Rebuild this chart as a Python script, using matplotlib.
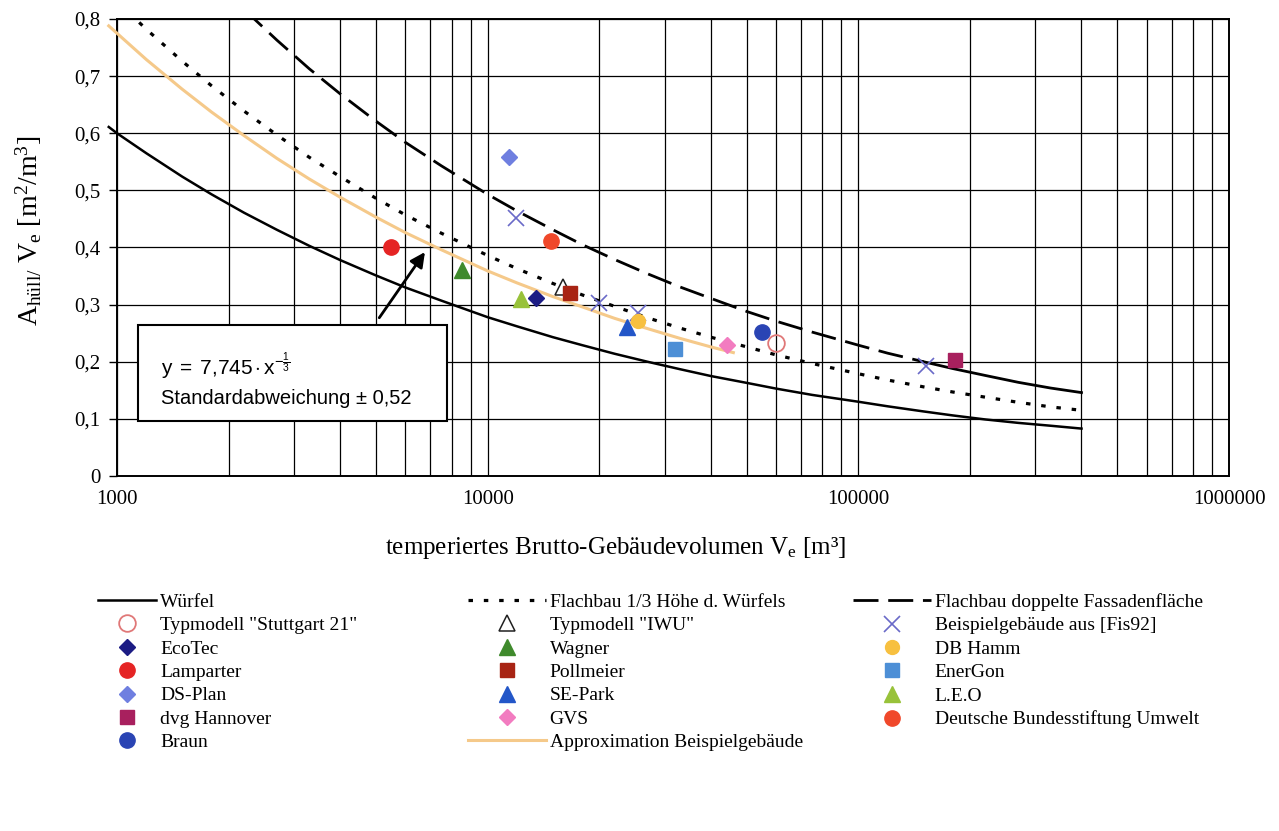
import matplotlib
matplotlib.use("Agg")
import matplotlib.pyplot as plt
from matplotlib.patches import Rectangle
from matplotlib.ticker import FixedLocator, FixedFormatter, LogLocator, NullFormatter

plt.rcParams['font.family'] = ['Liberation Serif', 'DejaVu Serif']
plt.rcParams['mathtext.fontset'] = 'custom'
plt.rcParams['mathtext.rm'] = 'Liberation Serif'
plt.rcParams['mathtext.sf'] = 'Liberation Sans'
plt.rcParams['mathtext.it'] = 'Liberation Serif:italic'

# Kurven
CURVE_V = [1000, 1200, 1500, 1800, 2200, 2700, 3300, 4000, 5000, 6000, 7500,
           10000, 12000, 15000, 18000, 22000, 27000, 33000, 40000, 50000, 60000, 75000,
           100000, 120000, 150000, 180000, 220000, 270000, 330000, 400000]
WUERFEL_V = [950] + CURVE_V
WUERFEL_Y = [0.611, 0.600, 0.565, 0.524, 0.493, 0.461, 0.431, 0.403, 0.378, 0.351, 0.330, 0.307,
             0.278, 0.262, 0.243, 0.229, 0.214, 0.200, 0.187, 0.175, 0.163, 0.153, 0.142,
             0.130, 0.122, 0.113, 0.106, 0.099, 0.093, 0.088, 0.083]

FLACH13_V = CURVE_V
FLACH13_Y = [0.831, 0.782, 0.726, 0.683, 0.639, 0.597, 0.558, 0.524, 0.486, 0.457, 0.425,
             0.386, 0.363, 0.337, 0.317, 0.297, 0.277, 0.259, 0.243, 0.226, 0.212, 0.197,
             0.179, 0.168, 0.156, 0.147, 0.138, 0.129, 0.121, 0.115]

DOPPEL_V = [2200, 2700, 3300, 4000, 5000, 6000, 7500, 10000, 12000, 15000, 18000, 22000,
            27000, 33000, 40000, 50000, 60000, 75000, 100000, 120000, 150000]
DOPPEL_Y = [0.817, 0.763, 0.713, 0.669, 0.621, 0.584, 0.543, 0.493, 0.464, 0.431, 0.405, 0.379,
            0.354, 0.331, 0.311, 0.288, 0.271, 0.252, 0.229, 0.215, 0.200]
DOPPEL_END_V = [150000, 180000, 220000, 270000, 330000, 400000]
DOPPEL_END_Y = [0.200, 0.188, 0.176, 0.164, 0.154, 0.146]

APPROX_V = [950, 1000, 1200, 1500, 1800, 2200, 2700, 3300, 4000, 5000, 6000, 7500,
            10000, 12000, 15000, 18000, 22000, 27000, 33000, 40000, 46000]
APPROX_Y = [0.788, 0.775, 0.729, 0.677, 0.637, 0.596, 0.556, 0.520, 0.488, 0.453, 0.426, 0.396,
            0.359, 0.338, 0.314, 0.296, 0.276, 0.258, 0.241, 0.226, 0.216]

# Beispielgebaeude
STUTTGART_V, STUTTGART_Y = [59800], [0.232]
IWU_V, IWU_Y = [16000], [0.330]
FIS92_V = [11900, 20000, 25400, 152000]
FIS92_Y = [0.452, 0.303, 0.285, 0.193]
ECOTEC_V, ECOTEC_Y = [13500], [0.312]
WAGNER_V, WAGNER_Y = [8500], [0.360]
DBHAMM_V, DBHAMM_Y = [25400], [0.271]
LAMPARTER_V, LAMPARTER_Y = [5500], [0.401]
POLLMEIER_V, POLLMEIER_Y = [16700], [0.321]
ENERGON_V, ENERGON_Y = [32000], [0.222]
DSPLAN_V, DSPLAN_Y = [11400], [0.559]
SEPARK_V, SEPARK_Y = [23700], [0.260]
LEO_V, LEO_Y = [12300], [0.310]
DVG_V, DVG_Y = [182000], [0.203]
GVS_V, GVS_Y = [44200], [0.230]
DBU_V, DBU_Y = [14800], [0.412]
BRAUN_V, BRAUN_Y = [54800], [0.252]

X_TICKS = [1000, 10000, 100000, 1000000]
X_LABELS = ['1000', '10000', '100000', '1000000']
Y_TICKS = [0, 0.1, 0.2, 0.3, 0.4, 0.5, 0.6, 0.7, 0.8]
Y_LABELS = ['0', '0,1', '0,2', '0,3', '0,4', '0,5', '0,6', '0,7', '0,8']

fig = plt.figure(figsize=(12.79, 8.31), dpi=100)
ax = fig.add_axes([117/1279, 1-476/831, 1112/1279, 457/831])
ax.set_xscale('log')
ax.set_xlim(1000, 1000000)
ax.set_ylim(0, 0.8)

ax.xaxis.set_major_locator(FixedLocator(X_TICKS))
ax.xaxis.set_major_formatter(FixedFormatter(X_LABELS))
ax.xaxis.set_minor_locator(LogLocator(base=10, subs=[2, 3, 4, 5, 6, 7, 8, 9]))
ax.xaxis.set_minor_formatter(NullFormatter())
ax.yaxis.set_major_locator(FixedLocator(Y_TICKS))
ax.yaxis.set_major_formatter(FixedFormatter(Y_LABELS))
ax.tick_params(axis='x', which='both', length=0, labelsize=15, pad=10)
ax.tick_params(axis='y', length=6, width=1, labelsize=15, direction='out', pad=6)

ax.grid(True, axis='x', which='both', color='black', lw=0.9)
ax.grid(True, axis='y', which='major', color='black', lw=0.9)
ax.set_axisbelow(True)
for s in ax.spines.values():
    s.set_linewidth(1.4)

l_wuerfel, = ax.plot(WUERFEL_V, WUERFEL_Y, color='black', lw=1.8, clip_on=False, zorder=3)
l_flach, = ax.plot(FLACH13_V, FLACH13_Y, color='black', lw=2.3, ls=(0, (1.4, 3.4)), zorder=3)
l_doppel, = ax.plot(DOPPEL_V, DOPPEL_Y, color='black', lw=2.0, ls=(0, (9, 3.5)), zorder=3)
ax.plot(DOPPEL_END_V, DOPPEL_END_Y, color='black', lw=2.0, zorder=3)
l_approx, = ax.plot(APPROX_V, APPROX_Y, color='#f5c98a', lw=2.2, clip_on=False, zorder=3)

ms = 10
def pts(v, y, **kw):
    h, = ax.plot(v, y, ls='none', zorder=5, **kw)
    return h

h_stutt = pts(STUTTGART_V, STUTTGART_Y, marker='o', ms=ms+2, mfc='none', mec='#e07878', mew=1.3)
h_iwu = pts(IWU_V, IWU_Y, marker='^', ms=ms+1, mfc='none', mec='#202020', mew=1.1)
h_fis = pts(FIS92_V, FIS92_Y, marker='x', ms=ms+2, color='#6a6ac8', mew=1.2)
h_eco = pts(ECOTEC_V, ECOTEC_Y, marker='D', ms=ms-2, color='#1c1c84')
h_wag = pts(WAGNER_V, WAGNER_Y, marker='^', ms=ms+1, color='#3f8a2c')
h_dbh = pts(DBHAMM_V, DBHAMM_Y, marker='o', ms=ms, color='#f7c040')
h_lam = pts(LAMPARTER_V, LAMPARTER_Y, marker='o', ms=ms+1, color='#e52424')
h_pol = pts(POLLMEIER_V, POLLMEIER_Y, marker='s', ms=ms, color='#a82414')
h_ene = pts(ENERGON_V, ENERGON_Y, marker='s', ms=ms, color='#4d8fd6')
h_dsp = pts(DSPLAN_V, DSPLAN_Y, marker='D', ms=ms-2, color='#6f7fe0')
h_sep = pts(SEPARK_V, SEPARK_Y, marker='^', ms=ms+1, color='#2356c8')
h_leo = pts(LEO_V, LEO_Y, marker='^', ms=ms+1, color='#98c23a')
h_dvg = pts(DVG_V, DVG_Y, marker='s', ms=ms, color='#a8205e')
h_gvs = pts(GVS_V, GVS_Y, marker='D', ms=ms-2, color='#f27cc0')
h_dbu = pts(DBU_V, DBU_Y, marker='o', ms=ms+1, color='#f0482a')
h_bra = pts(BRAUN_V, BRAUN_Y, marker='o', ms=ms+1, color='#2a44b4')

# Kasten mit Formel
ax.add_patch(Rectangle((0.019, 0.120), 0.278, 0.210, transform=ax.transAxes,
                       facecolor='white', edgecolor='black', lw=1.5, zorder=6))
ax.text(0.040, 0.240, r'$\mathsf{y\ =\ 7{,}745 \cdot x^{-\frac{1}{3}}}$', transform=ax.transAxes,
        fontsize=15, va='center', ha='left', zorder=7)
ax.text(0.040, 0.170, 'Standardabweichung \u00b1 0,52', transform=ax.transAxes,
        family='Liberation Sans', fontsize=14.5, va='center', ha='left', zorder=7)
ax.annotate('', xy=(6840, 0.396), xytext=(5050, 0.273),
            arrowprops=dict(arrowstyle='-|>', color='black', lw=2, mutation_scale=22),
            zorder=7)

ax.set_ylabel(r'A$_{\mathrm{hüll/}}$ V$_{\mathrm{e}}$ [m$^2$/m$^3$]', fontsize=20)
ax.yaxis.set_label_coords((44-117)/1112, (476-231)/457)
ax.set_xlabel('temperiertes Brutto-Gebäudevolumen V$_{\mathrm{e}}$ [m³]', fontsize=18)
ax.xaxis.set_label_coords((616-117)/1112, (476-535)/457)

leg_kw = dict(frameon=False, fontsize=14, handletextpad=0.2,
              labelspacing=0.30, loc='upper left', borderaxespad=0, borderpad=0)

col1 = [l_wuerfel, h_stutt, h_eco, h_lam, h_dsp, h_dvg, h_bra]
lab1 = ['Würfel', 'Typmodell "Stuttgart 21"', 'EcoTec', 'Lamparter', 'DS-Plan',
        'dvg Hannover', 'Braun']
col2 = [l_flach, h_iwu, h_wag, h_pol, h_sep, h_gvs, l_approx]
lab2 = ['Flachbau 1/3 Höhe d. Würfels', 'Typmodell "IWU"', 'Wagner', 'Pollmeier',
        'SE-Park', 'GVS', 'Approximation Beispielgebäude']
col3 = [l_doppel, h_fis, h_dbh, h_ene, h_leo, h_dbu]
lab3 = ['Flachbau doppelte Fassadenfläche', 'Beispielgebäude aus [Fis92]', 'DB Hamm',
        'EnerGon', 'L.E.O', 'Deutsche Bundesstiftung Umwelt']

y_leg = 1 - 593/831
lg1 = fig.legend(col1, lab1, bbox_to_anchor=(98/1279, y_leg), handlelength=3.0, **leg_kw)
lg2 = fig.legend(col2, lab2, bbox_to_anchor=(468/1279, y_leg), handlelength=4.0, **leg_kw)
lg3 = fig.legend(col3, lab3, bbox_to_anchor=(853/1279, y_leg), handlelength=4.0, **leg_kw)

fig.savefig('out.png', dpi=100)
